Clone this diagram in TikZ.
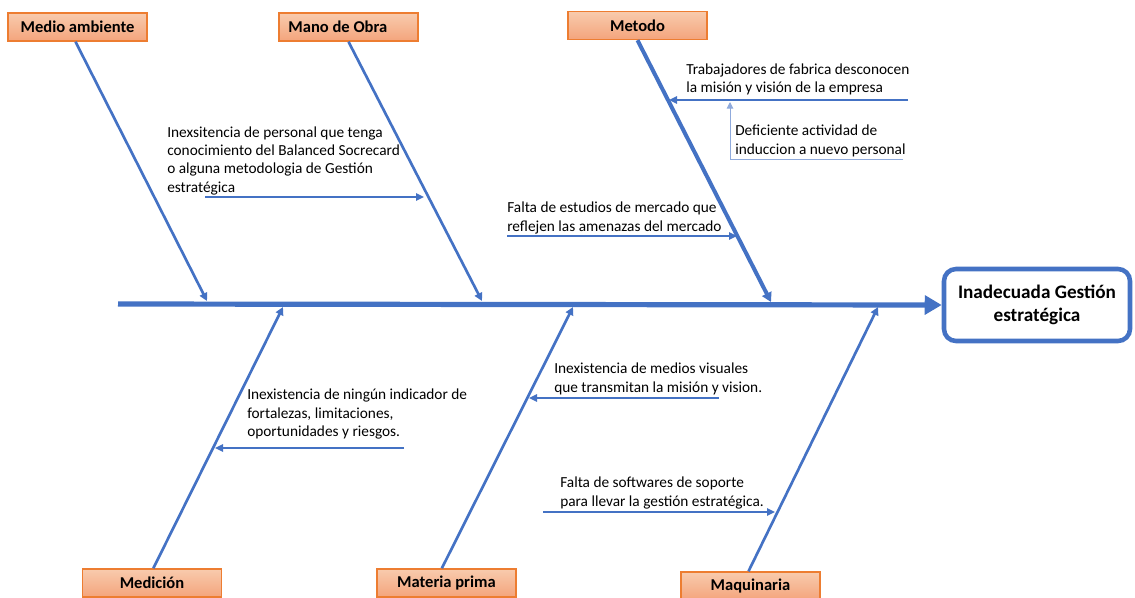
\documentclass[tikz,border=0pt]{standalone}
\usepackage{fontspec}
\setmainfont{Carlito}
\usetikzlibrary{arrows.meta}
\definecolor{bone}{HTML}{4472C4}
\definecolor{boxtop}{HTML}{F8CBAD}
\definecolor{boxbot}{HTML}{F4A47C}
\definecolor{boxedge}{HTML}{ED7D31}
\definecolor{thinblue}{HTML}{8FAADC}
\begin{document}
\begin{tikzpicture}[x=0.75pt,y=-0.75pt,
  cat/.style={draw=boxedge,line width=1.1pt,top color=boxtop,bottom color=boxbot,minimum width=104pt,minimum height=21pt,inner sep=0pt,font=\fontsize{12.4}{14}\selectfont\bfseries},
  bonel/.style={draw=bone,line width=2pt,-{Triangle[length=6pt,width=6pt]}},
  bonethick/.style={draw=bone,line width=3pt,-{Triangle[length=7pt,width=7.5pt]}},
  sub/.style={draw=bone,line width=1.5pt,-{Triangle[length=6pt,width=5.5pt]}},
  txt/.style={anchor=base west,align=left,inner sep=0pt,font=\fontsize{11.5}{13.75}\selectfont},
  effect/.style={draw=bone,line width=3.4pt,fill=white,rounded corners=9pt,minimum width=139.5pt,minimum height=54pt,align=center,inner sep=0pt,font=\fontsize{14.4}{17}\selectfont\bfseries}
]
\path[use as bounding box] (0,0) rectangle (1135,597);
\clip (0,0) rectangle (1135,597);

% category boxes
\node[cat] (ma) at (77.5,27) {Medio ambiente};
\node[cat] (mo) at (348.5,27) {Mano de Obra\hspace*{16pt}};
\node[cat] (me) at (637.5,25.5) {Metodo};
\node[cat] (md) at (152,583) {Medición};
\node[cat] (mp) at (446.5,583) {Materia prima};
\node[cat] (mq) at (750.5,586) {Maquinaria};

% effect
\node[effect] (ef) at (1037,305) {Inadecuada Gestión\\estratégica};

% spine
\coordinate (sp0) at (118,304);
\draw[draw=bone,line width=3.9pt,-{Triangle[length=12.75pt,width=14pt]}] (sp0) -- (ef.west);

% spine points
\coordinate (s1) at (207,301);
\coordinate (s2) at (482,301);
\coordinate (s3) at (771,302);
\coordinate (s4) at (283,307);
\coordinate (s5) at (573,307);
\coordinate (s6) at (878,307);

% bones
\draw[bonel] ([xshift=-1.5]ma.south) -- (s1);
\draw[bonel] (mo.south) -- (s2);
\draw[bonethick] (me.south) -- (s3);
\draw[bonel] ([xshift=1]md.north) -- (s4);
\draw[bonel] ([xshift=-3.5]mp.north) -- (s5);
\draw[bonel] ([xshift=-1.5]mq.north) -- (s6);

% sub causes (anchor = baseline of last line)
\node[txt] (t1) at (167,192) {Inexsitencia de personal que tenga\\conocimiento del Balanced Socrecard\\o alguna metodologia de Gestión\\estratégica};
\coordinate (a1s) at (205,197);
\coordinate (a1e) at (424,197);
\draw[sub] (a1s) -- (a1e);

\node[txt] (t2) at (507,231) {Falta de estudios de mercado que\\reflejen las amenazas del mercado};
\coordinate (a2s) at (507,236);
\coordinate (a2e) at (737,236);
\draw[sub] (a2s) -- (a2e);

\node[txt] (t3) at (686,92.5) {Trabajadores de fabrica desconocen\\la misión y visión de la empresa};
\coordinate (a3s) at (908,100);
\coordinate (a3e) at (669,100);
\draw[sub] (a3s) -- (a3e);

\node[txt] (t4) at (735,154) {Deficiente actividad de\\induccion a nuevo personal};
\coordinate (a4c) at (730,159);
\coordinate (a4r) at (903,159);
\coordinate (a4e) at (730,102);
\draw[draw=thinblue,line width=0.75pt] (a4r) -- (a4c);
\draw[draw=thinblue,line width=0.75pt,-{Triangle[length=5pt,width=5pt]}] (a4c) -- (a4e);

\node[txt] (t5) at (247,436.5) {Inexistencia de ningún indicador de\\fortalezas, limitaciones,\\oportunidades y riesgos.};
\coordinate (a5s) at (404,448);
\coordinate (a5e) at (215,448);
\draw[sub] (a5s) -- (a5e);

\node[txt] (t6) at (554,392) {Inexistencia de medios visuales\\que transmitan la misión y vision.};
\coordinate (a6s) at (719,398);
\coordinate (a6e) at (529,398);
\draw[sub] (a6s) -- (a6e);

\node[txt] (t7) at (560,506) {Falta de softwares de soporte\\para llevar la gestión estratégica.};
\coordinate (a7s) at (543,512);
\coordinate (a7e) at (775,512);
\draw[sub] (a7s) -- (a7e);
\end{tikzpicture}
\end{document}
